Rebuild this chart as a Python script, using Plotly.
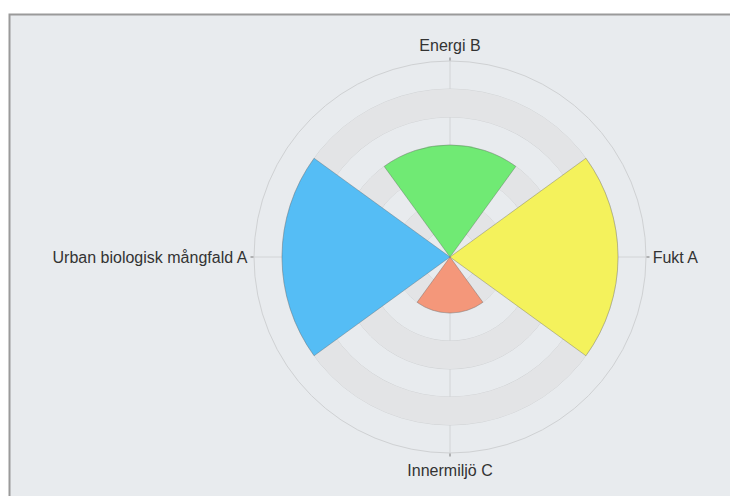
import plotly.graph_objects as go

categories = ["Energi B", "Fukt A", "Innermiljö C", "Urban biologisk mångfald A"]
angles = [0, 90, 180, 270]
values = [4, 6, 2, 6]
colors = ["#70ea74", "#f4f25c", "#f4977a", "#55bdf5"]
radial_max = 7
band_bases = [1, 3, 5]

fig = go.Figure()

# alternating plot bands
fig.add_trace(go.Barpolar(
    r=[1] * len(band_bases), base=band_bases, theta=[0] * len(band_bases),
    width=[360] * len(band_bases),
    marker=dict(color="#e3e4e6", line=dict(width=0)),
    hoverinfo="skip", showlegend=False,
))

fig.add_trace(go.Barpolar(
    r=values, theta=angles, width=[72] * len(values),
    marker=dict(color=colors, line=dict(color="rgba(90,90,90,0.35)", width=1)),
    text=categories, showlegend=False,
))

cx, cy, R = 450, 257, 196
W, H = 730, 496

fig.update_layout(
    width=W, height=H,
    margin=dict(l=0, r=0, t=0, b=0),
    paper_bgcolor="white",
    font=dict(family="Liberation Sans, Arial, sans-serif", size=16, color="#333333"),
    shapes=[dict(type="rect", xref="paper", yref="paper",
                 x0=9.5 / W, x1=1.05, y0=-0.05, y1=1 - 14.5 / H,
                 fillcolor="#e8ebee", line=dict(color="#9a9a9a", width=2),
                 layer="below")],
    polar=dict(
        domain=dict(x=[(cx - R) / W, (cx + R) / W],
                    y=[(H - cy - R) / H, (H - cy + R) / H]),
        bgcolor="rgba(0,0,0,0)",
        bargap=0,
        radialaxis=dict(range=[0, radial_max], dtick=1, showticklabels=False,
                        ticks="", showline=False, gridcolor="#d2d4d6",
                        gridwidth=1, layer="above traces"),
        angularaxis=dict(rotation=90, direction="clockwise",
                         tickmode="array", tickvals=angles, ticktext=categories,
                         ticks="outside", ticklen=3, tickcolor="#777777",
                         showline=True, linecolor="#cfd1d3", linewidth=1,
                         gridcolor="#d2d4d6", layer="above traces",
                         tickfont=dict(size=16, color="#333333")),
    ),
)

fig.write_html("out.html",
               config={"displayModeBar": False},
               post_script="document.body.style.margin='0';document.body.style.overflow='hidden';")
